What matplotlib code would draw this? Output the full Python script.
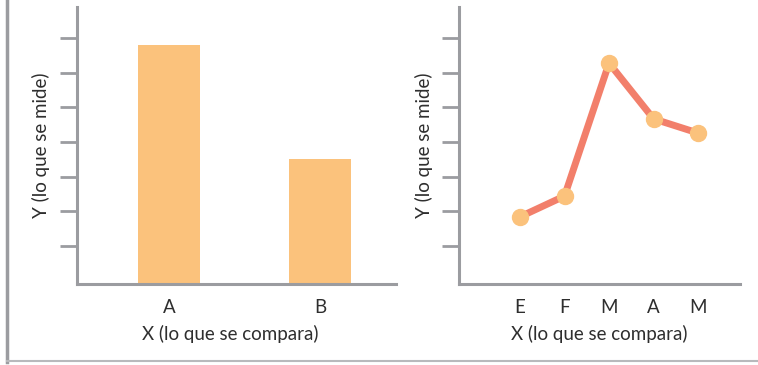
import matplotlib.pyplot as plt
from matplotlib.lines import Line2D

# data
bar_cats = ["A", "B"]
bar_vals = [6.8, 3.5]

line_cats = ["E", "F", "M", "A", "M"]
line_vals = [1.84, 2.44, 6.28, 4.67, 4.26]

yticks = [1, 2, 3, 4, 5, 6, 7]

GRAY = "#9b9ca0"
TEXT = "#2e2e2e"
BAR = "#fbc27c"
LINE = "#f27f6b"
FONT = ["Lato", "DejaVu Sans"]
YMIN = -0.1

plt.rcParams["font.family"] = FONT

fig = plt.figure(figsize=(7.58, 3.65), dpi=100)
ax1 = fig.add_axes([0.1016, 0.2219, 0.4208, 0.7589])
ax2 = fig.add_axes([0.6055, 0.2219, 0.3707, 0.7589])


def style(ax):
    for s in ["top", "right"]:
        ax.spines[s].set_visible(False)
    for s in ["left", "bottom"]:
        ax.spines[s].set_color(GRAY)
        ax.spines[s].set_linewidth(2.2)
    ax.set_ylim(YMIN, 7.9)
    ax.set_yticks(yticks)
    ax.set_yticklabels([])
    ax.tick_params(axis="y", length=12, width=2, color=GRAY, direction="out")
    ax.tick_params(axis="x", length=0, pad=11, labelsize=13.5, labelcolor=TEXT)
    ax.set_xlabel("X (lo que se compara)", fontsize=13.5, color=TEXT)
    ax.set_ylabel("Y (lo que se mide)", fontsize=13.5, color=TEXT)


# bar chart
x1 = list(range(len(bar_cats)))
ax1.bar(x1, [v - YMIN for v in bar_vals], bottom=YMIN, width=0.41, color=BAR)
ax1.set_xticks(x1)
ax1.set_xticklabels(bar_cats)
ax1.set_xlim(-0.61, 1.50)
style(ax1)
ax1.xaxis.set_label_coords(0.48, -0.148)
ax1.yaxis.set_label_coords(-0.085, 0.5)

# line chart
x2 = list(range(len(line_cats)))
ax2.plot(x2, line_vals, color=LINE, lw=5, marker="o", markersize=11.5,
         markerfacecolor=BAR, markeredgecolor=BAR, solid_capstyle="round")
ax2.set_xticks(x2)
ax2.set_xticklabels(line_cats)
ax2.set_xlim(-1.37, 4.94)
style(ax2)
ax2.xaxis.set_label_coords(0.50, -0.148)
ax2.yaxis.set_label_coords(-0.092, 0.5)

# frame lines on left and bottom of the figure
fig.add_artist(Line2D([7 / 758, 7 / 758], [3 / 365, 1], color=GRAY, lw=2.5))
fig.add_artist(Line2D([7 / 758, 1], [4 / 365, 4 / 365], color="#b8b9bc", lw=1.5))

fig.savefig("out.png", dpi=100)
